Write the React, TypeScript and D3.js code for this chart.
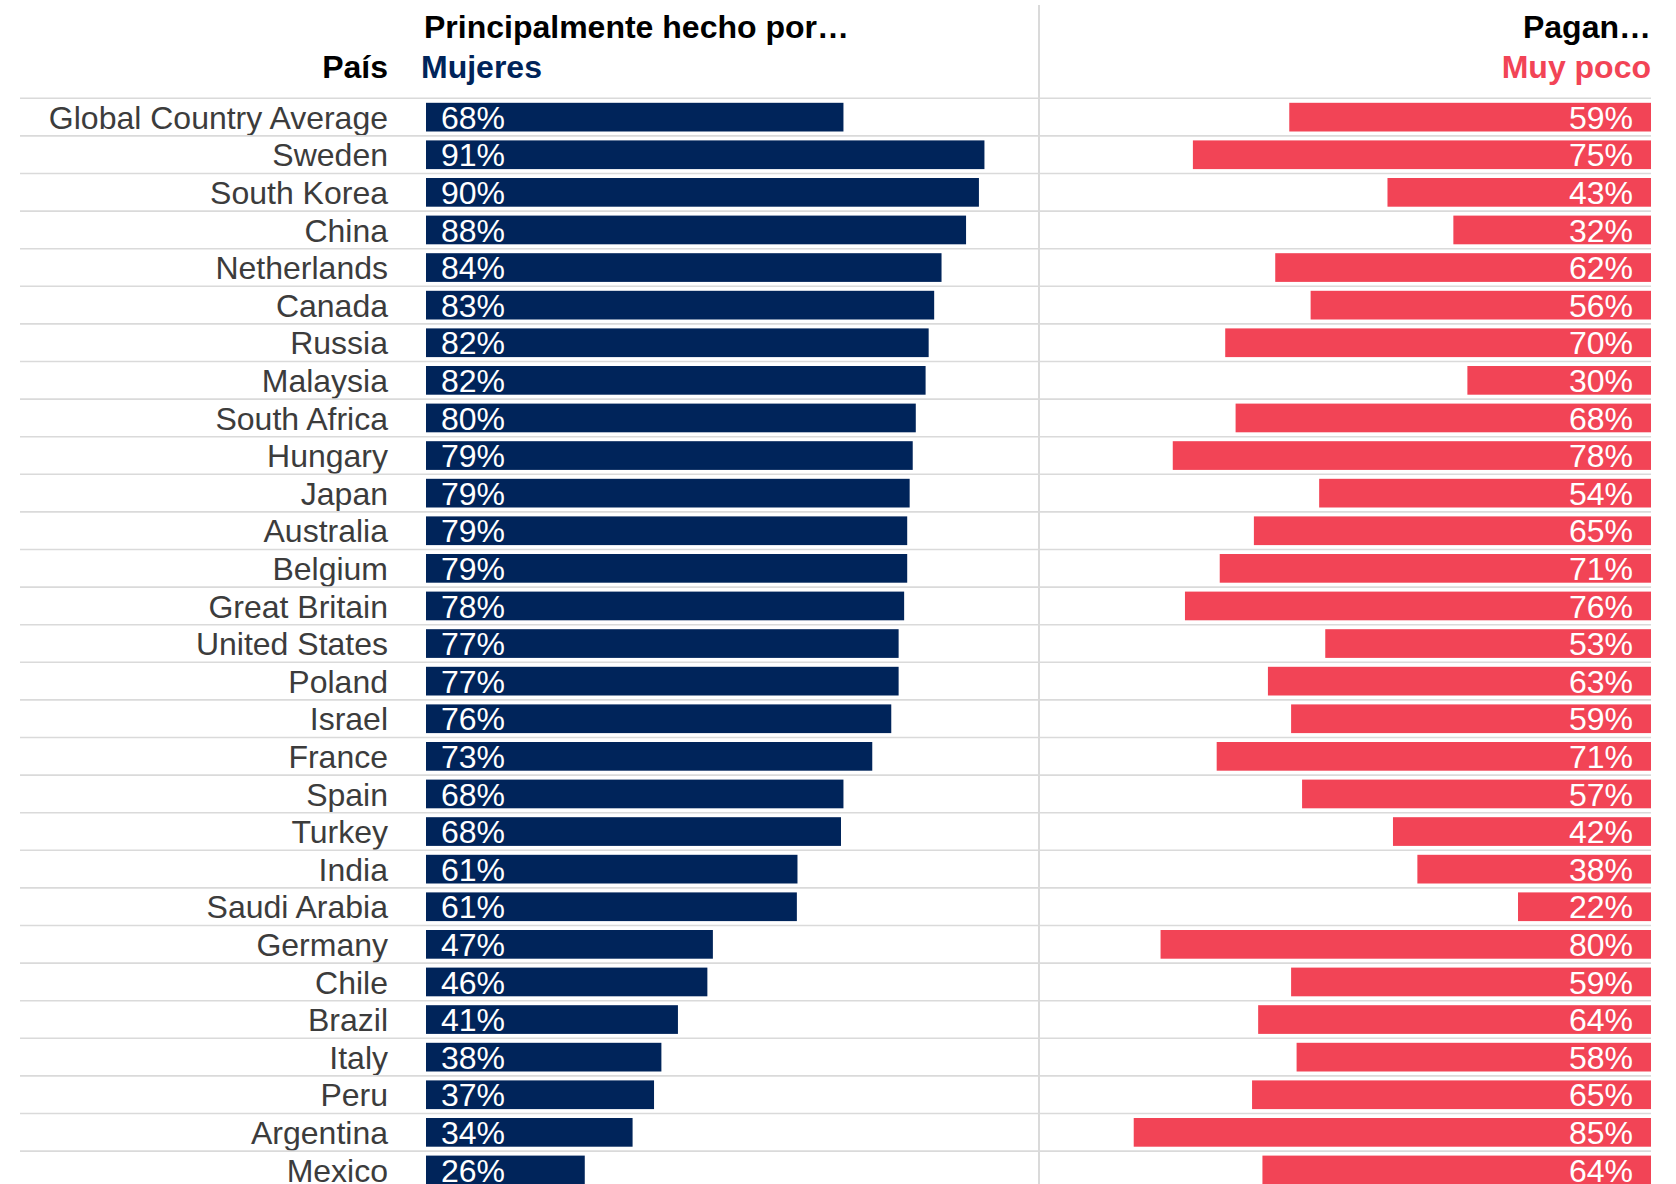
import React from "react";
import * as d3 from "d3";

const countries = [
  "Global Country Average", "Sweden", "South Korea", "China", "Netherlands", "Canada",
  "Russia", "Malaysia", "South Africa", "Hungary", "Japan", "Australia", "Belgium",
  "Great Britain", "United States", "Poland", "Israel", "France", "Spain", "Turkey",
  "India", "Saudi Arabia", "Germany", "Chile", "Brazil", "Italy", "Peru", "Argentina", "Mexico",
];

// "Principalmente hecho por… Mujeres" (%)
const mujeres = [
  68.1, 91.1, 90.2, 88.1, 84.1, 82.9, 82.0, 81.5, 79.9, 79.4, 78.9, 78.5, 78.5,
  78.0, 77.1, 77.1, 75.9, 72.8, 68.1, 67.7, 60.6, 60.5, 46.8, 45.9, 41.1, 38.4, 37.2, 33.7, 25.9,
];

// "Pagan… Muy poco" (%)
const muyPoco = [
  59.3, 75.1, 43.2, 32.4, 61.6, 55.8, 69.8, 30.1, 68.1, 78.4, 54.4, 65.1, 70.7,
  76.4, 53.4, 62.8, 59.0, 71.2, 57.2, 42.3, 38.3, 21.8, 80.4, 59.0, 64.4, 58.1, 65.4, 84.8, 63.7,
];

const W = 1676;
const H = 1184;
const NAVY = "#00245a";
const RED = "#f24456";
const GRID = "#dadada";
const FONT = "'Liberation Sans', Arial, sans-serif";

export default function App() {
  const y = d3.scaleBand<string>().domain(countries).range([98.3, 98.3 + 37.6 * countries.length]).paddingInner(0).paddingOuter(0);
  const xL = d3.scaleLinear().domain([0, 100]).range([426, 1039]);
  const xR = d3.scaleLinear().domain([0, 100]).range([1651, 1041]);
  const bh = 28.7;
  const fmt = (v: number) => `${Math.round(v)}%`;

  return (
    <svg width={W} height={H} style={{ position: "absolute", left: 0, top: 0, background: "#fff" }} fontFamily={FONT}>
      <rect x={0} y={0} width={W} height={H} fill="#fff" />
      {/* headers */}
      <text x={424} y={37.5} fontSize={32} fontWeight="bold" fill="#000">Principalmente hecho por…</text>
      <text x={388} y={77.5} fontSize={32} fontWeight="bold" fill="#000" textAnchor="end">País</text>
      <text x={421} y={77.5} fontSize={32} fontWeight="bold" fill={NAVY}>Mujeres</text>
      <text x={1651} y={37.5} fontSize={32} fontWeight="bold" fill="#000" textAnchor="end">Pagan…</text>
      <text x={1651} y={77.5} fontSize={32} fontWeight="bold" fill={RED} textAnchor="end">Muy poco</text>

      {/* divider */}
      <line x1={1039} x2={1039} y1={5} y2={H} stroke={GRID} strokeWidth={2} />

      {countries.map((c, i) => {
        const top = y(c)!;
        const by = top + 4.5;
        const ty = top + 30.5;
        return (
          <g key={c}>
            <line x1={20} x2={1651} y1={top} y2={top} stroke={GRID} strokeWidth={1.6} />
            <text x={388} y={ty} fontSize={32} fill="#3c3c3c" textAnchor="end">{c}</text>
            <rect x={xL(0)} y={by} width={xL(mujeres[i]) - xL(0)} height={bh} fill={NAVY} />
            <text x={xL(0) + 15} y={ty} fontSize={32} fill="#fff">{fmt(mujeres[i])}</text>
            <rect x={xR(muyPoco[i])} y={by} width={xR(0) - xR(muyPoco[i])} height={bh} fill={RED} />
            <text x={xR(0) - 18} y={ty} fontSize={32} fill="#fff" textAnchor="end">{fmt(muyPoco[i])}</text>
          </g>
        );
      })}
    </svg>
  );
}
